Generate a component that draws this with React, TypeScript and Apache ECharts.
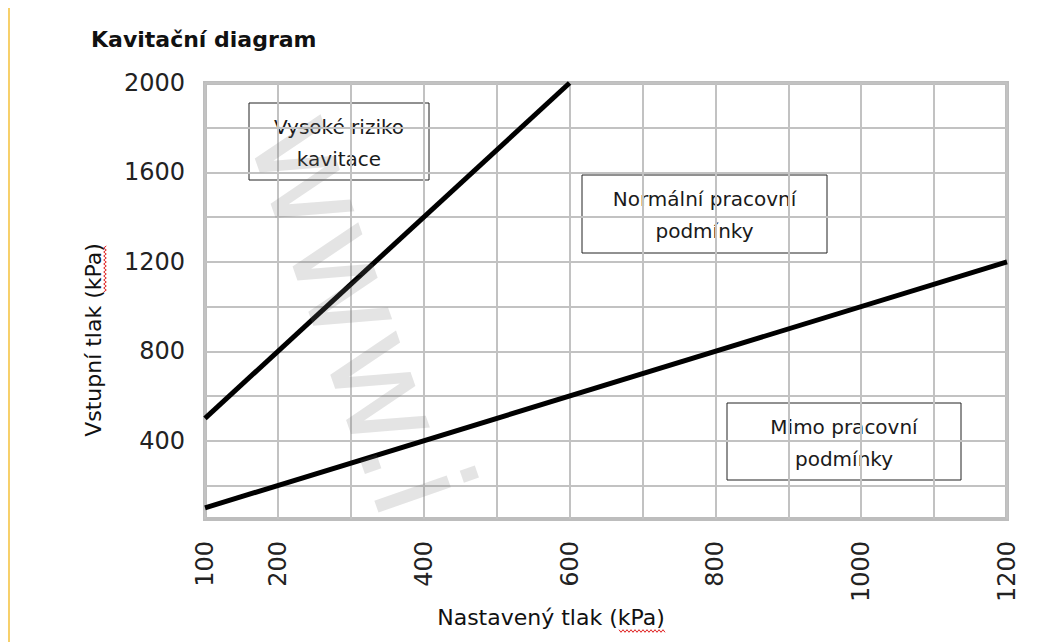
import React, { useEffect, useRef } from "react";
import * as echarts from "echarts";

// ---- data ----
const highRiskLine: [number, number][] = [
  [100, 500],
  [600, 2000],
];
const normalLimitLine: [number, number][] = [
  [100, 100],
  [1200, 1200],
];
const xTickLabels = [100, 200, 400, 600, 800, 1000, 1200];
const yTickLabels = [400, 800, 1200, 1600, 2000];
const yGridValues = [200, 400, 600, 800, 1000, 1200, 1400, 1600, 1800, 2000];
const xMin = 100;
const xMax = 1200;
const xStep = 100;
const yMin = 50;
const yMax = 2000;

const titleText = "Kavitační diagram";
const xName = "Nastavený tlak (kPa)";
const yName = "Vstupní tlak (kPa)";
const boxHigh = ["Vysoké riziko", "kavitace"];
const boxNormal = ["Normální pracovní", "podmínky"];
const boxOut = ["Mimo pracovní", "podmínky"];
const watermarkText = "www.i";

function squiggle(x0: number, y0: number, len: number, vertical: boolean) {
  const pts: number[][] = [];
  const step = 2;
  for (let i = 0; i <= len / step; i++) {
    const off = i % 2 === 0 ? -1.3 : 1.3;
    pts.push(vertical ? [x0 + off, y0 - i * step] : [x0 + i * step, y0 + off]);
  }
  return pts;
}

const FONT = "DejaVu Sans";

function box(x: number, y: number, w: number, h: number, lines: string[]) {
  return {
    type: "group",
    x,
    y,
    children: [
      {
        type: "rect",
        shape: { x: 0, y: 0, width: w, height: h },
        style: { fill: "#ffffff", stroke: "#222222", lineWidth: 1 },
      },
      {
        type: "text",
        x: w / 2,
        y: h / 2 + 1,
        style: {
          text: lines.join("\n"),
          fill: "#1a1a1a",
          fontFamily: FONT,
          fontSize: 20,
          lineHeight: 32,
          align: "center",
          verticalAlign: "middle",
        },
      },
    ],
  };
}

export default function App() {
  const ref = useRef<HTMLDivElement>(null);
  useEffect(() => {
    if (!ref.current) return;
    const chart = echarts.init(ref.current, undefined, { renderer: "svg" });
    chart.setOption({
      animation: false,
      backgroundColor: "#ffffff",
      title: {
        text: titleText,
        left: 86,
        top: 23,
        textStyle: {
          fontFamily: FONT,
          fontWeight: "bold",
          fontSize: 22,
          color: "#111111",
        },
      },
      grid: {
        left: 205,
        right: 56,
        top: 83,
        bottom: 123,
        show: true,
        borderColor: "#bdbdbd",
        borderWidth: 4,
        backgroundColor: "transparent",
      },
      xAxis: {
        type: "value",
        min: xMin,
        max: xMax,
        interval: xStep,
        axisLine: { show: false },
        axisTick: { show: false },
        splitLine: { show: true, lineStyle: { color: "#c2c2c2", width: 2 } },
        axisLabel: {
          customValues: xTickLabels,
          formatter: (v: number) => String(v),
          rotate: 90,
          margin: 22,
          fontFamily: FONT,
          fontSize: 24,
          color: "#222222",
        },
      },
      yAxis: {
        type: "value",
        min: yMin,
        max: yMax,
        axisLine: { show: false },
        axisTick: { show: false, customValues: yGridValues },
        splitLine: { show: true, lineStyle: { color: "#c2c2c2", width: 2 } },
        axisLabel: {
          customValues: yTickLabels,
          formatter: (v: number) => String(v),
          margin: 20,
          fontFamily: FONT,
          fontSize: 24,
          color: "#222222",
        },
      },
      series: [
        {
          type: "line",
          data: highRiskLine,
          symbol: "none",
          lineStyle: { color: "#000000", width: 5 },
          z: 5,
        },
        {
          type: "line",
          data: normalLimitLine,
          symbol: "none",
          lineStyle: { color: "#000000", width: 5 },
          z: 5,
        },
      ],
      graphic: [
        {
          type: "line",
          shape: { x1: 9, y1: 7, x2: 1063, y2: 7 },
          style: { stroke: "#f4c03a", lineWidth: 1.5 },
        },
        {
          type: "line",
          shape: { x1: 9, y1: 7, x2: 9, y2: 642 },
          style: { stroke: "#f4c03a", lineWidth: 1.5 },
        },
        box(249, 103, 180, 77, boxHigh),
        box(582, 175, 245, 78, boxNormal),
        box(727, 403, 234, 77, boxOut),
        {
          type: "text",
          x: 551,
          y: 617,
          style: {
            text: xName,
            fill: "#111111",
            fontFamily: FONT,
            fontSize: 22,
            align: "center",
            verticalAlign: "middle",
          },
        },
        {
          type: "text",
          x: 93,
          y: 340,
          rotation: Math.PI / 2,
          style: {
            text: yName,
            fill: "#111111",
            fontFamily: FONT,
            fontSize: 22,
            align: "center",
            verticalAlign: "middle",
          },
        },
        {
          type: "polyline",
          shape: { points: squiggle(619, 631, 46, false) },
          style: { stroke: "#e02020", lineWidth: 1, fill: null },
        },
        {
          type: "polyline",
          shape: { points: squiggle(105, 292, 46, true) },
          style: { stroke: "#e02020", lineWidth: 1, fill: null },
        },
        {
          type: "text",
          x: 292,
          y: 118,
          rotation: -1.234,
          z: 100,
          style: {
            text: watermarkText,
            fill: "rgba(120,120,120,0.2)",
            fontFamily: FONT,
            fontSize: 140,
            align: "left",
            verticalAlign: "middle",
          },
        },
      ],
    });
    return () => chart.dispose();
  }, []);
  return <div ref={ref} style={{ width: 1063, height: 642, marginLeft: -8, marginTop: -8 }} />;
}
